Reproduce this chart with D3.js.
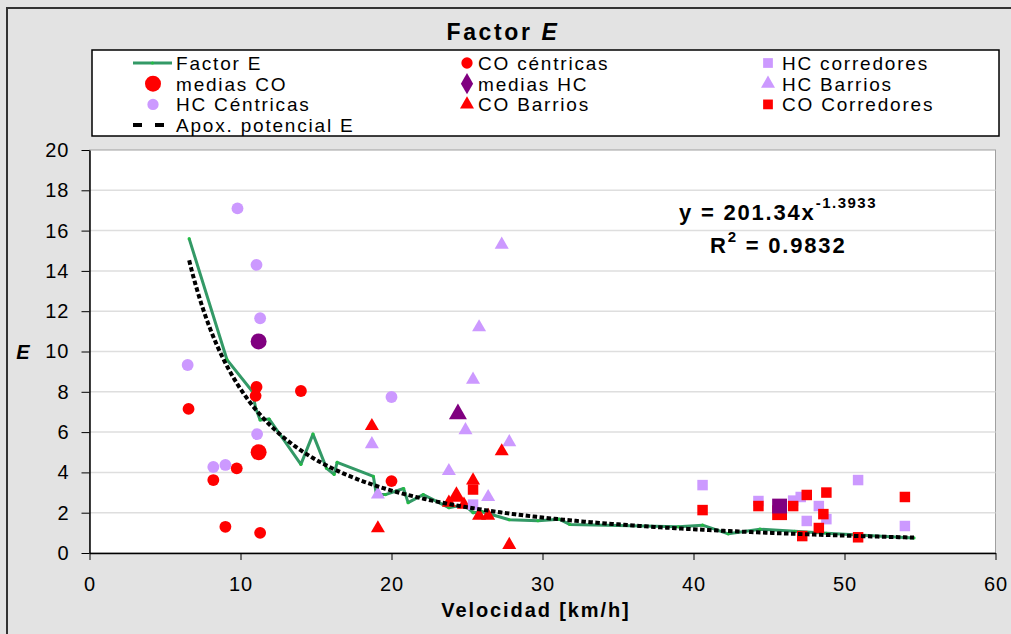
<!DOCTYPE html>
<html>
<head>
<meta charset="utf-8">
<script src="https://cdn.jsdelivr.net/npm/d3@7"></script>
<style>
  body { margin: 0; background: #e3e3e3; }
  text { font-family: "Liberation Sans", Arial, sans-serif; }
</style>
</head>
<body>
<svg width="1011" height="634"></svg>
<script>
// Factor E (curva media)
var factorV = [6.6, 9.1, 10.8, 11.0, 11.3, 11.9, 14.0, 14.8, 15.7, 16.2, 16.4, 18.8, 19.0, 19.6, 20.8, 21.1, 22.1, 23.8, 24.8, 25.4, 26.0, 27.8, 29.7, 31.1, 31.8, 39.0, 40.6, 42.3, 44.4, 46.7, 48.8, 54.6];
var factorE = [15.6, 9.6, 8.0, 7.2, 6.6, 6.65, 4.4, 5.9, 4.2, 3.9, 4.5, 3.8, 2.9, 2.9, 3.2, 2.5, 2.9, 2.25, 2.4, 2.0, 2.05, 1.65, 1.6, 1.68, 1.42, 1.3, 1.38, 0.95, 1.18, 1.08, 0.98, 0.75];

// ajuste potencial mostrado en el grafico
var potA = 201.34, potB = -1.3933;
var potRange = [6.6, 54.6];

var hcCentricasV = [9.8, 11.06, 11.3, 6.5, 11.1, 8.2, 9.0, 20.0];
var hcCentricasE = [17.1, 14.3, 11.65, 9.33, 5.9, 4.27, 4.37, 7.74];

var coCentricasV = [6.56, 11.06, 11.0, 14.0, 8.2, 9.75, 9.0, 11.3, 20.0];
var coCentricasE = [7.15, 8.24, 7.8, 8.04, 3.62, 4.2, 1.3, 1.0, 3.57];

var hcBarriosV = [27.3, 25.8, 25.4, 24.9, 18.7, 27.8, 23.8, 19.1, 26.4];
var hcBarriosE = [15.3, 11.2, 8.6, 6.1, 5.4, 5.5, 4.07, 2.9, 2.78];

var coBarriosV = [18.7, 27.3, 25.4, 19.1, 23.8, 24.8, 25.8, 26.4, 27.8];
var coBarriosE = [6.3, 5.05, 3.6, 1.23, 2.5, 2.4, 1.85, 1.85, 0.4];

var hcCorredoresV = [25.4, 40.6, 44.3, 46.6, 47.1, 48.3, 47.5, 48.8, 50.9, 54.0];
var hcCorredoresE = [2.4, 3.37, 2.58, 2.6, 2.78, 2.33, 1.59, 1.68, 3.62, 1.34];

var coCorredoresV = [25.4, 40.6, 44.3, 46.6, 47.5, 48.8, 48.6, 48.3, 47.2, 50.9, 54.0];
var coCorredoresE = [3.15, 2.13, 2.33, 2.33, 2.88, 3.0, 1.93, 1.24, 0.84, 0.78, 2.78];

// medias: centricas, barrios, corredores
var mediasCOV = [11.2, 24.3, 45.7];
var mediasCOE = [5.0, 2.8, 2.0];
var mediasHCV = [11.2, 24.4, 45.7];
var mediasHCE = [10.5, 6.9, 2.33];

var xTicks = [0, 10, 20, 30, 40, 50, 60];
var yTicks = [0, 2, 4, 6, 8, 10, 12, 14, 16, 18, 20];

var red = "#ff0000", lila = "#cc99ff", morado = "#800080", verde = "#339966";

var svg = d3.select("svg");

// marco exterior
svg.append("rect").attr("x", 7).attr("y", 8).attr("width", 1010).attr("height", 640)
  .attr("fill", "#e3e3e3").attr("stroke", "#333").attr("stroke-width", 2);

var x = d3.scaleLinear().domain([0, 60]).range([89.5, 995.5]);
var y = d3.scaleLinear().domain([0, 20]).range([553, 150]);

svg.append("rect").attr("x", x(0)).attr("y", y(20))
  .attr("width", x(60) - x(0)).attr("height", y(0) - y(20))
  .attr("fill", "#fff").attr("stroke", "#a0a0a0").attr("stroke-width", 1);

// grid
svg.selectAll("line.grid").data(yTicks.slice(1, -1)).enter().append("line")
  .attr("x1", x(0)).attr("x2", x(60))
  .attr("y1", d => y(d)).attr("y2", d => y(d))
  .attr("stroke", "#dedede").attr("stroke-width", 1.5);

var yAxis = svg.append("g").attr("transform", "translate(" + x(0) + ",0)")
  .call(d3.axisLeft(y).tickValues(yTicks).tickSize(8).tickPadding(12).tickSizeOuter(0));
var xAxis = svg.append("g").attr("transform", "translate(0," + y(0) + ")")
  .call(d3.axisBottom(x).tickValues(xTicks).tickSize(7).tickPadding(17).tickSizeOuter(0));
[xAxis, yAxis].forEach(function (g) {
  g.selectAll("path").attr("stroke", "#000").attr("stroke-width", 1.5);
  g.selectAll("line").attr("stroke", "#000").attr("stroke-width", 1);
  g.selectAll("text").attr("font-size", 20).attr("fill", "#000")
    .attr("font-family", "Liberation Sans, Arial, sans-serif").style("letter-spacing", "1px");
});

// linea Factor E
var factorPts = factorV.map((v, i) => [v, factorE[i]]);
svg.append("path").datum(factorPts)
  .attr("d", d3.line().x(d => x(d[0])).y(d => y(d[1])))
  .attr("fill", "none").attr("stroke", verde).attr("stroke-width", 3).attr("stroke-linejoin", "round");
svg.selectAll("circle.fv").data(factorPts).enter().append("circle")
  .attr("cx", d => x(d[0])).attr("cy", d => y(d[1])).attr("r", 1.6).attr("fill", "#22bb44");

function puntos(vs, es, tipo, size, color) {
  svg.append("g").selectAll("path").data(vs.map((v, i) => [v, es[i]])).enter().append("path")
    .attr("d", d3.symbol().type(tipo).size(size))
    .attr("transform", d => "translate(" + x(d[0]) + "," + y(d[1]) + ")")
    .attr("fill", color);
}

puntos(hcCentricasV, hcCentricasE, d3.symbolCircle, 110, lila);
puntos(coCentricasV, coCentricasE, d3.symbolCircle, 110, red);
puntos(hcBarriosV, hcBarriosE, d3.symbolTriangle, 85, lila);
puntos(coBarriosV, coBarriosE, d3.symbolTriangle, 85, red);
puntos(hcCorredoresV, hcCorredoresE, d3.symbolSquare, 110, lila);
puntos(coCorredoresV, coCorredoresE, d3.symbolSquare, 110, red);

var formas = [d3.symbolCircle, d3.symbolTriangle, d3.symbolSquare];
var tamMedias = [200, 140, 220];
mediasCOV.forEach(function (v, i) {
  puntos([v], [mediasCOE[i]], formas[i], tamMedias[i], red);
});
mediasHCV.forEach(function (v, i) {
  puntos([v], [mediasHCE[i]], formas[i], tamMedias[i], morado);
});

// linea de tendencia potencial
var potPts = d3.range(potRange[0], potRange[1] + 0.01, 0.2).map(v => [v, potA * Math.pow(v, potB)]);
svg.append("path").datum(potPts)
  .attr("d", d3.line().x(d => x(d[0])).y(d => y(d[1])))
  .attr("fill", "none").attr("stroke", "#000").attr("stroke-width", 4)
  .attr("stroke-dasharray", "4.5,2.5");

// ecuacion
var eq = svg.append("text").attr("x", 679).attr("y", 220)
  .attr("font-size", 22).attr("font-weight", "bold").style("letter-spacing", "1.8px");
eq.append("tspan").text("y = 201.34x");
eq.append("tspan").attr("dy", -12).attr("font-size", 15).style("letter-spacing", "1.5px").text("-1.3933");
var r2 = svg.append("text").attr("x", 710).attr("y", 253)
  .attr("font-size", 22).attr("font-weight", "bold").style("letter-spacing", "1.8px");
r2.append("tspan").text("R");
r2.append("tspan").attr("dy", -11).attr("font-size", 15).text("2");
r2.append("tspan").attr("dy", 11).text(" = 0.9832");

// titulos
var t = svg.append("text").attr("x", 503).attr("y", 40).attr("text-anchor", "middle")
  .attr("font-size", 23).attr("font-weight", "bold").style("letter-spacing", "2.6px");
t.append("tspan").text("Factor ");
t.append("tspan").attr("font-style", "italic").text("E");

svg.append("text").attr("x", 536).attr("y", 617).attr("text-anchor", "middle")
  .attr("font-size", 20).attr("font-weight", "bold").style("letter-spacing", "1.9px")
  .text("Velocidad [km/h]");

svg.append("text").attr("x", 23).attr("y", 359).attr("text-anchor", "middle")
  .attr("font-size", 20).attr("font-weight", "bold").attr("font-style", "italic").text("E");

// leyenda
svg.append("rect").attr("x", 92).attr("y", 50).attr("width", 907).attr("height", 86)
  .attr("fill", "#fff").attr("stroke", "#000").attr("stroke-width", 1.5);

var leyenda = [
  { nombre: "Factor E", col: 0, fila: 0, tipo: "linea" },
  { nombre: "medias CO", col: 0, fila: 1, tipo: d3.symbolCircle, size: 200, color: red },
  { nombre: "HC Céntricas", col: 0, fila: 2, tipo: d3.symbolCircle, size: 100, color: lila },
  { nombre: "Apox. potencial E", col: 0, fila: 3, tipo: "trazos" },
  { nombre: "CO céntricas", col: 1, fila: 0, tipo: d3.symbolCircle, size: 100, color: red },
  { nombre: "medias HC", col: 1, fila: 1, tipo: d3.symbolDiamond, size: 130, color: morado },
  { nombre: "CO Barrios", col: 1, fila: 2, tipo: d3.symbolTriangle, size: 85, color: red },
  { nombre: "HC corredores", col: 2, fila: 0, tipo: d3.symbolSquare, size: 95, color: lila },
  { nombre: "HC Barrios", col: 2, fila: 1, tipo: d3.symbolTriangle, size: 85, color: lila },
  { nombre: "CO Corredores", col: 2, fila: 2, tipo: d3.symbolSquare, size: 95, color: red }
];
var colSym = [153, 467, 768], colTxt = [176, 478, 782];
leyenda.forEach(function (d) {
  var cy = 63 + d.fila * 20.7;
  var sx = colSym[d.col];
  if (d.tipo === "linea") {
    svg.append("line").attr("x1", 133).attr("x2", 172).attr("y1", cy).attr("y2", cy)
      .attr("stroke", verde).attr("stroke-width", 3);
    svg.append("circle").attr("cx", 152.5).attr("cy", cy).attr("r", 1.6).attr("fill", "#22bb44");
  } else if (d.tipo === "trazos") {
    svg.append("line").attr("x1", 133).attr("x2", 164).attr("y1", cy).attr("y2", cy)
      .attr("stroke", "#000").attr("stroke-width", 4).attr("stroke-dasharray", "9,13");
  } else {
    svg.append("path").attr("d", d3.symbol().type(d.tipo).size(d.size)())
      .attr("transform", "translate(" + sx + "," + cy + ")").attr("fill", d.color);
  }
  svg.append("text").attr("x", colTxt[d.col]).attr("y", cy + 7)
    .attr("font-size", 19).style("letter-spacing", "1.8px").text(d.nombre);
});
</script>
</body>
</html>
